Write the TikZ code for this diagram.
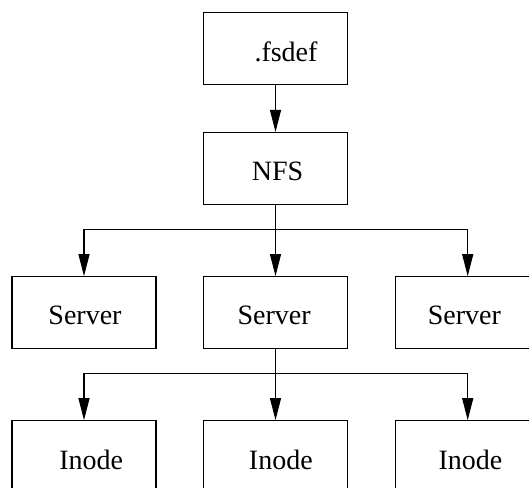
\documentclass[tikz,border=0pt]{standalone}
\usepackage{fontspec}
\setmainfont{Liberation Serif}
\usetikzlibrary{arrows.meta}

\tikzset{
  box/.style={draw=black, line width=1.1pt, minimum width=144pt, minimum height=72pt,
              inner sep=0pt, font=\fontsize{28}{34}\selectfont},
  tag/.style={font=\fontsize{28}{34}\selectfont, inner sep=0pt},
  link/.style={draw=black, line width=1.1pt},
  flow/.style={link, -{Triangle[length=22pt, width=11pt]}}
}

\begin{document}
\begin{tikzpicture}[x=1pt, y=-1pt]
  \useasboundingbox (0,0) rectangle (529,487);

  % top level: the definition file and the NFS root
  \node[box, label={[tag, xshift=10.5pt, yshift=-3pt]center:.fsdef}] (fsdef) at (275.5,48.7) {};
  \node[box, label={[tag, xshift=2pt, yshift=-3pt]center:NFS}] (nfs) at (275.5,168.5) {};

  % servers
  \node[box, label={[tag, xshift=1pt, yshift=-3pt]center:Server}] (srvL) at (84,312.7) {};
  \node[box, label={[tag, xshift=-1.3pt, yshift=-3pt]center:Server}] (srvM) at (275.5,312.7) {};
  \node[box, label={[tag, xshift=-3.4pt, yshift=-3pt]center:Server}] (srvR) at (467.7,312.7) {};

  % inodes
  \node[box, label={[tag, xshift=7.3pt, yshift=-3pt]center:Inode}] (inoL) at (84,456.7) {};
  \node[box, label={[tag, xshift=5.3pt, yshift=-3pt]center:Inode}] (inoM) at (275.5,456.7) {};
  \node[box, label={[tag, xshift=2.8pt, yshift=-3pt]center:Inode}] (inoR) at (467.7,456.7) {};

  % branch points of the two fan-outs
  \coordinate (busA) at (275.5,229.3);
  \coordinate (busB) at (275.5,373.3);

  % connectors
  \draw[flow] (fsdef.south) -- (nfs.north);

  \draw[flow] (nfs.south) -- (srvM.north);
  \draw[flow] (busA) -| (srvL.north);
  \draw[flow] (busA) -| (srvR.north);

  \draw[flow] (srvM.south) -- (inoM.north);
  \draw[flow] (busB) -| (inoL.north);
  \draw[flow] (busB) -| (inoR.north);
\end{tikzpicture}
\end{document}
